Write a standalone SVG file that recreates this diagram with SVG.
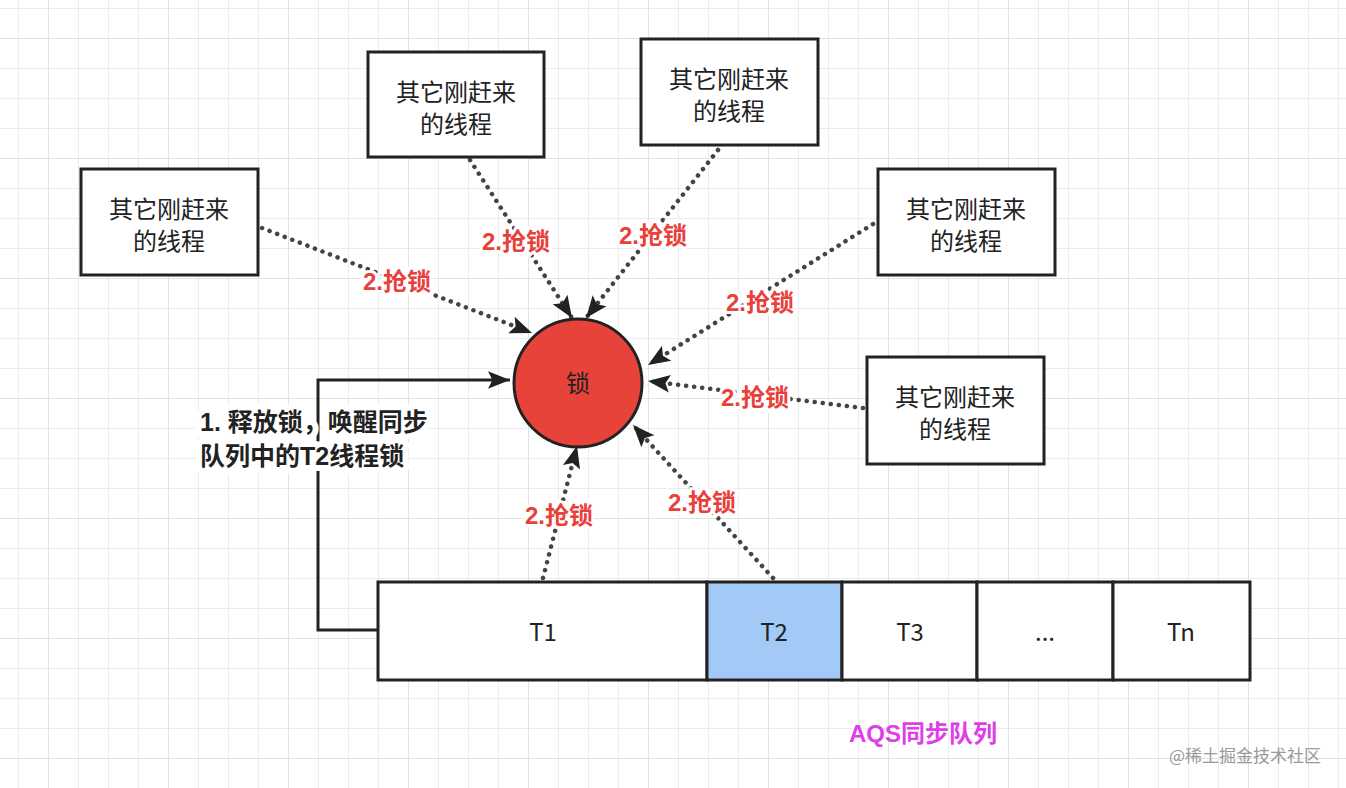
<svg xmlns="http://www.w3.org/2000/svg" width="1346" height="788" viewBox="0 0 1346 788">
<defs>
<pattern id="g" width="30" height="30" patternUnits="userSpaceOnUse" x="18" y="8"><path d="M0 0H30M0 0V30" stroke="#ececec" stroke-width="2" fill="none"/></pattern>
<pattern id="G" width="120" height="120" patternUnits="userSpaceOnUse" x="48" y="38"><path d="M0 0H120M0 0V120" stroke="#e2e2e2" stroke-width="2" fill="none"/></pattern>
<marker id="b" viewBox="0 0 10 10" refX="10" refY="5" markerWidth="22" markerHeight="22" orient="auto" markerUnits="userSpaceOnUse"><path d="M0 1 L10 5 L0 9 L2 5 Z" fill="#222"/></marker>
</defs>
<style>
.box{fill:#fff;stroke:#222;stroke-width:3}
.t{font-family:"Noto Sans CJK SC","Liberation Sans",sans-serif;font-size:24px;fill:#222;text-anchor:middle}
.l{font-family:"Liberation Sans","Noto Sans CJK SC",sans-serif;font-size:24px;font-weight:bold;fill:#e8403a;text-anchor:middle;stroke:#fff;stroke-width:6;paint-order:stroke}
.d{stroke:#444;stroke-width:4.5;stroke-dasharray:0.1 8;stroke-linecap:round;fill:none;marker-end:url(#b)}
.k{font-family:"Liberation Sans","Noto Sans CJK SC",sans-serif;font-size:25px;font-weight:bold;fill:#222;stroke:#fff;stroke-width:12;paint-order:stroke;stroke-linejoin:round}
</style>
<rect width="1346" height="788" fill="#fff"/>
<rect width="1346" height="788" fill="url(#g)"/>
<rect width="1346" height="788" fill="url(#G)"/>
<g id="connectors">
<path class="d" d="M262 228 L532 333"/>
<path class="d" d="M470 160 L572 318"/>
<path class="d" d="M718 150 L586 318"/>
<path class="d" d="M873 224 L648 365"/>
<path class="d" d="M863 408 L648 381"/>
<path class="d" d="M543 578 L577 446"/>
<path class="d" d="M773 578 L633 425"/>
<path d="M378 630 H318 V380 H510" fill="none" stroke="#222" stroke-width="3" marker-end="url(#b)"/>
<text class="l" x="397" y="290">2.抢锁</text>
<text class="l" x="516" y="250">2.抢锁</text>
<text class="l" x="653" y="244">2.抢锁</text>
<text class="l" x="760" y="311">2.抢锁</text>
<text class="l" x="755" y="406">2.抢锁</text>
<text class="l" x="559" y="524">2.抢锁</text>
<text class="l" x="702" y="511">2.抢锁</text>
<text class="k" x="200" y="431">1. 释放锁，唤醒同步</text>
<text class="k" x="200" y="465">队列中的T2线程锁</text>
</g>
<g id="lock"><circle cx="578" cy="383" r="64" fill="#e8433b" stroke="#222" stroke-width="3"/><text class="t" x="578" y="392">锁</text></g>
<g id="nA"><rect class="box" x="81" y="169" width="177" height="106"/><text class="t" x="169" y="218">其它刚赶来</text><text class="t" x="169" y="250">的线程</text></g>
<g id="nB"><rect class="box" x="368" y="52" width="176" height="105"/><text class="t" x="456" y="101">其它刚赶来</text><text class="t" x="456" y="133">的线程</text></g>
<g id="nC"><rect class="box" x="641" y="39" width="177" height="106"/><text class="t" x="729" y="88">其它刚赶来</text><text class="t" x="729" y="120">的线程</text></g>
<g id="nD"><rect class="box" x="878" y="169" width="177" height="106"/><text class="t" x="966" y="218">其它刚赶来</text><text class="t" x="966" y="250">的线程</text></g>
<g id="nE"><rect class="box" x="867" y="357" width="177" height="107"/><text class="t" x="955" y="406">其它刚赶来</text><text class="t" x="955" y="438">的线程</text></g>
<g id="queue">
<rect class="box" x="378" y="582" width="329" height="98"/><text class="t" x="543" y="641">T1</text>
<rect class="box" x="707" y="582" width="135" height="98" style="fill:#a3c9f6"/><text class="t" x="774" y="641">T2</text>
<rect class="box" x="842" y="582" width="135" height="98"/><text class="t" x="910" y="641">T3</text>
<rect class="box" x="977" y="582" width="136" height="98"/><text class="t" x="1045" y="641">...</text>
<rect class="box" x="1113" y="582" width="137" height="98"/><text class="t" x="1181" y="641">Tn</text>
</g>
<text x="923" y="742" style="font-family:'Liberation Sans','Noto Sans CJK SC',sans-serif;font-size:24px;font-weight:bold;fill:#e03ee8;text-anchor:middle">AQS同步队列</text>
<text x="1245" y="762" style="font-family:'Noto Sans CJK SC',sans-serif;font-size:17px;fill:#999;text-anchor:middle">@稀土掘金技术社区</text>
</svg>
